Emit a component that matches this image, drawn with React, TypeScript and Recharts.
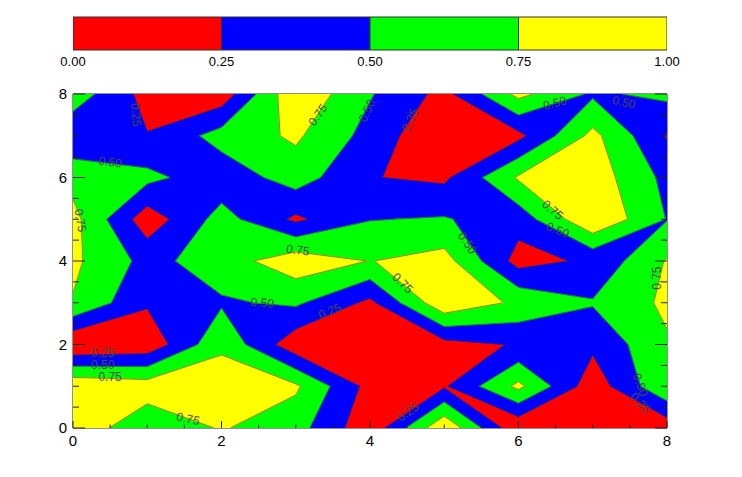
import React from 'react';
import { ScatterChart, Scatter, XAxis, YAxis, BarChart, Bar } from 'recharts';

// grid node coordinates
const xNodes = [0, 1, 2, 3, 4, 5, 6, 7, 8];
const yNodes = [0, 1, 2, 3, 4, 5, 6, 7, 8];

// z values, one row per y node (x = 0..8)
const zRow0 = [0.92, 0.57, 0.77, 0.6, 0.07, 0.96, 0.04, 0.05, 0.09];
const zRow1 = [0.95, 0.88, 0.9, 0.79, 0.16, 0.22, 0.81, 0.1, 0.72];
const zRow2 = [0.01, 0.07, 0.7, 0.08, 0.05, 0.16, 0.27, 0.3, 0.72];
const zRow3 = [0.735, 0.28, 0.47, 0.54, 0.19, 0.947, 0.7, 0.52, 0.8];
const zRow4 = [0.8, 0.42, 0.63, 0.905, 0.743, 0.85, 0.15, 0.3, 0.77];
const zRow5 = [0.83, 0.1, 0.6, 0.2, 0.49, 0.52, 0.35, 0.98, 0.49];
const zRow6 = [0.66, 0.57, 0.34, 0.62, 0.26, 0.2, 0.78, 0.89, 0.43];
const zRow7 = [0.3, 0.26, 0.6, 0.79, 0.41, 0.01, 0.18, 0.82, 0.23];
const zRow8 = [0.64, 0.16, 0.094, 0.96, 0.52, 0.17, 0.82, 0.46, 0.56];
const zRows = [zRow0, zRow1, zRow2, zRow3, zRow4, zRow5, zRow6, zRow7, zRow8];

const fillLevels = [0, 0.25, 0.5, 0.75];
const fillColors = ['#ff0000', '#0000ff', '#00ff00', '#ffff00'];
const lineLevels = [0.25, 0.5, 0.75];

const axisTicks = [0, 0.5, 1, 1.5, 2, 2.5, 3, 3.5, 4, 4.5, 5, 5.5, 6, 6.5, 7, 7.5, 8];
const labeledTicks = [0, 2, 4, 6, 8];
const colorbarTicks = [0, 0.25, 0.5, 0.75, 1];

// contour labels
const labelText = ['0.25', '0.50', '0.75', '0.75', '0.50', '0.25', '0.50', '0.50', '0.75', '0.50', '0.50', '0.75', '0.75', '0.50', '0.25', '0.75', '0.25', '0.50', '0.75', '0.75', '0.25', '0.50', '0.25'];
const labelX = [0.85, 0.5, 0.1, 3.3, 3.96, 4.54, 6.49, 7.42, 6.46, 6.53, 5.31, 3.03, 4.44, 2.55, 3.46, 7.87, 0.4, 0.4, 0.5, 1.55, 4.51, 7.64, 7.64];
const labelY = [7.5, 6.37, 4.97, 7.5, 7.6, 7.38, 7.78, 7.8, 5.22, 4.74, 4.43, 4.26, 3.47, 3.0, 2.8, 3.59, 1.8, 1.5, 1.22, 0.22, 0.38, 1.03, 0.6];
const labelAngle = [85, 8, 80, -55, -65, -65, -15, 12, 40, 22, 55, 8, 45, 5, -22, -90, 0, 0, 0, 12, -35, 70, 50];

type V = { x: number; y: number };
type C = { x: number; y: number; z: number };

function cellCorners(i: number, j: number): C[] {
  return [
    { x: xNodes[i], y: yNodes[j], z: zRows[j][i] },
    { x: xNodes[i + 1], y: yNodes[j], z: zRows[j][i + 1] },
    { x: xNodes[i + 1], y: yNodes[j + 1], z: zRows[j + 1][i + 1] },
    { x: xNodes[i], y: yNodes[j + 1], z: zRows[j + 1][i] },
  ];
}

function cross(a: C, b: C, level: number): V {
  const t = (level - a.z) / (b.z - a.z);
  return { x: a.x + t * (b.x - a.x), y: a.y + t * (b.y - a.y) };
}

function isSaddle(c: C[], level: number) {
  const s = c.map((p) => p.z >= level);
  return s[0] === s[2] && s[1] === s[3] && s[0] !== s[1];
}

function superlevelCells(level: number): V[][] {
  const polys: V[][] = [];
  for (let j = 0; j < yNodes.length - 1; j++) {
    for (let i = 0; i < xNodes.length - 1; i++) {
      const c = cellCorners(i, j);
      if (isSaddle(c, level)) {
        for (let k = 0; k < 4; k++) {
          if (c[k].z >= level) {
            const prev = c[(k + 3) % 4];
            const next = c[(k + 1) % 4];
            polys.push([cross(prev, c[k], level), { x: c[k].x, y: c[k].y }, cross(c[k], next, level)]);
          }
        }
        continue;
      }
      const poly: V[] = [];
      for (let k = 0; k < 4; k++) {
        const a = c[k];
        const b = c[(k + 1) % 4];
        const ia = a.z >= level;
        const ib = b.z >= level;
        if (ia) poly.push({ x: a.x, y: a.y });
        if (ia !== ib) poly.push(cross(a, b, level));
      }
      if (poly.length >= 3) polys.push(poly);
    }
  }
  return polys;
}

function contourSegments(level: number): V[][] {
  const segs: V[][] = [];
  for (let j = 0; j < yNodes.length - 1; j++) {
    for (let i = 0; i < xNodes.length - 1; i++) {
      const c = cellCorners(i, j);
      if (isSaddle(c, level)) {
        for (let k = 0; k < 4; k++) {
          if (c[k].z >= level) {
            segs.push([cross(c[(k + 3) % 4], c[k], level), cross(c[k], c[(k + 1) % 4], level)]);
          }
        }
        continue;
      }
      const cr: { p: V; exit: boolean }[] = [];
      for (let k = 0; k < 4; k++) {
        const a = c[k];
        const b = c[(k + 1) % 4];
        const ia = a.z >= level;
        const ib = b.z >= level;
        if (ia !== ib) cr.push({ p: cross(a, b, level), exit: ia });
      }
      for (let m = 0; m < cr.length; m++) {
        if (cr[m].exit) segs.push([cr[m].p, cr[(m + 1) % cr.length].p]);
      }
    }
  }
  return segs;
}

const fillLayers = fillLevels.map((lv, k) => {
  const polys = superlevelCells(lv);
  return { color: fillColors[k], sizes: polys.map((p) => p.length), data: polys.flat() };
});

const lineLayers = lineLevels.map((lv) => {
  const segs = contourSegments(lv);
  return { sizes: segs.map((s) => s.length), data: segs.flat() };
});

const labelData = labelText.map((t, k) => ({ x: labelX[k], y: labelY[k], t, a: labelAngle[k] }));

const FONT = '"Liberation Sans", Arial, Helvetica, sans-serif';
const AXIS_COLOR = '#222';

const NoShape = () => <g />;

function makeFillLine(sizes: number[], color: string) {
  return (props: any) => {
    const pts = props.points || [];
    let d = '';
    let k = 0;
    for (const n of sizes) {
      for (let m = 0; m < n; m++) {
        const p = pts[k + m];
        if (!p) continue;
        d += (m === 0 ? 'M' : 'L') + p.x.toFixed(2) + ',' + p.y.toFixed(2);
      }
      d += 'Z';
      k += n;
    }
    return <path d={d} fill={color} stroke={color} strokeWidth={0.8} strokeLinejoin="round" />;
  };
}

function makeContourLine(sizes: number[]) {
  return (props: any) => {
    const pts = props.points || [];
    let d = '';
    let k = 0;
    for (const n of sizes) {
      for (let m = 0; m < n; m++) {
        const p = pts[k + m];
        if (!p) continue;
        d += (m === 0 ? 'M' : 'L') + p.x.toFixed(2) + ',' + p.y.toFixed(2);
      }
      k += n;
    }
    return <path d={d} fill="none" stroke="#3a3a3a" strokeWidth={0.7} strokeOpacity={0.85} />;
  };
}

const LabelShape = (p: any) => {
  const pl = p.payload || {};
  return (
    <text
      x={p.cx}
      y={p.cy}
      transform={`rotate(${pl.a} ${p.cx} ${p.cy})`}
      textAnchor="middle"
      dominantBaseline="central"
      fontSize={12}
      fontFamily={FONT}
      fill="#4a4a4a"
    >
      {pl.t}
    </text>
  );
};

const BottomTick = (p: any) => {
  const v = p.payload.value;
  const major = labeledTicks.includes(v);
  return (
    <g>
      <line x1={p.x} y1={p.y} x2={p.x} y2={p.y - (major ? 7 : 3.5)} stroke={AXIS_COLOR} strokeWidth={1} />
      {major && (
        <text x={p.x} y={p.y + 7} dy="0.71em" textAnchor="middle" fontSize={15} fontFamily={FONT} fill="#000">
          {v}
        </text>
      )}
    </g>
  );
};

const TopTick = (p: any) => {
  const v = p.payload.value;
  const major = labeledTicks.includes(v);
  return <line x1={p.x} y1={p.y} x2={p.x} y2={p.y + (major ? 7 : 3.5)} stroke={AXIS_COLOR} strokeWidth={1} />;
};

const LeftTick = (p: any) => {
  const v = p.payload.value;
  const major = labeledTicks.includes(v);
  return (
    <g>
      <line x1={p.x} y1={p.y} x2={p.x + (major ? 12 : 6)} y2={p.y} stroke={AXIS_COLOR} strokeWidth={1} />
      {major && (
        <text x={p.x - 6} y={p.y} dy="0.355em" textAnchor="end" fontSize={15} fontFamily={FONT} fill="#000">
          {v}
        </text>
      )}
    </g>
  );
};

const RightTick = (p: any) => {
  const v = p.payload.value;
  const major = labeledTicks.includes(v);
  return <line x1={p.x} y1={p.y} x2={p.x - (major ? 12 : 6)} y2={p.y} stroke={AXIS_COLOR} strokeWidth={1} />;
};

const colorbarData = [
  {
    name: 'bar',
    s0: colorbarTicks[1] - colorbarTicks[0],
    s1: colorbarTicks[2] - colorbarTicks[1],
    s2: colorbarTicks[3] - colorbarTicks[2],
    s3: colorbarTicks[4] - colorbarTicks[3],
  },
];

export default function App() {
  return (
    <div style={{ position: 'absolute', left: 0, top: 0, width: 742, height: 477, background: '#fff' }}>
      <div style={{ position: 'absolute', left: 0, top: 0 }}>
        <ScatterChart width={742} height={477} margin={{ top: 90, right: 65, bottom: 19, left: 33 }}>
          {fillLayers.map((layer, k) => (
            <Scatter
              key={'fill' + k}
              data={layer.data}
              isAnimationActive={false}
              shape={NoShape}
              line={makeFillLine(layer.sizes, layer.color)}
              fill={layer.color}
            />
          ))}
          {lineLayers.map((layer, k) => (
            <Scatter
              key={'line' + k}
              data={layer.data}
              isAnimationActive={false}
              shape={NoShape}
              line={makeContourLine(layer.sizes)}
              fill="#3a3a3a"
            />
          ))}
          <Scatter data={labelData} isAnimationActive={false} shape={LabelShape} fill="#4a4a4a" />
          <XAxis
            dataKey="x"
            type="number"
            domain={[0, 8]}
            ticks={axisTicks}
            interval={0}
            height={30}
            tickSize={0}
            tickMargin={0}
            tick={BottomTick}
            tickLine={false}
            axisLine={{ stroke: AXIS_COLOR }}
            allowDataOverflow
          />
          <XAxis
            xAxisId="t"
            orientation="top"
            type="number"
            domain={[0, 8]}
            ticks={axisTicks}
            interval={0}
            height={4}
            tickSize={0}
            tickMargin={0}
            tick={TopTick}
            tickLine={false}
            axisLine={{ stroke: AXIS_COLOR }}
            allowDataOverflow
          />
          <YAxis
            dataKey="y"
            type="number"
            domain={[0, 8]}
            ticks={axisTicks}
            interval={0}
            width={40}
            tickSize={0}
            tickMargin={0}
            tick={LeftTick}
            tickLine={false}
            axisLine={{ stroke: AXIS_COLOR }}
            allowDataOverflow
          />
          <YAxis
            yAxisId="r"
            orientation="right"
            type="number"
            domain={[0, 8]}
            ticks={axisTicks}
            interval={0}
            width={10}
            tickSize={0}
            tickMargin={0}
            tick={RightTick}
            tickLine={false}
            axisLine={{ stroke: AXIS_COLOR }}
            allowDataOverflow
          />
        </ScatterChart>
      </div>
      <div style={{ position: 'absolute', left: 0, top: 0 }}>
        <BarChart
          width={742}
          height={80}
          layout="vertical"
          data={colorbarData}
          margin={{ top: 17, right: 75, bottom: 0, left: 73 }}
          barCategoryGap={0}
        >
          <XAxis
            type="number"
            domain={[0, 1]}
            ticks={colorbarTicks}
            interval={0}
            height={30}
            tickSize={0}
            tickMargin={7}
            axisLine={false}
            tickLine={false}
            tickFormatter={(v: number) => v.toFixed(2)}
            tick={{ fontSize: 13, fontFamily: FONT, fill: '#000' }}
            allowDataOverflow
          />
          <YAxis type="category" dataKey="name" hide width={0} />
          <Bar dataKey="s0" stackId="c" fill={fillColors[0]} stroke="#333" strokeWidth={1} isAnimationActive={false} />
          <Bar dataKey="s1" stackId="c" fill={fillColors[1]} stroke="#333" strokeWidth={1} isAnimationActive={false} />
          <Bar dataKey="s2" stackId="c" fill={fillColors[2]} stroke="#333" strokeWidth={1} isAnimationActive={false} />
          <Bar dataKey="s3" stackId="c" fill={fillColors[3]} stroke="#333" strokeWidth={1} isAnimationActive={false} />
        </BarChart>
      </div>
    </div>
  );
}
